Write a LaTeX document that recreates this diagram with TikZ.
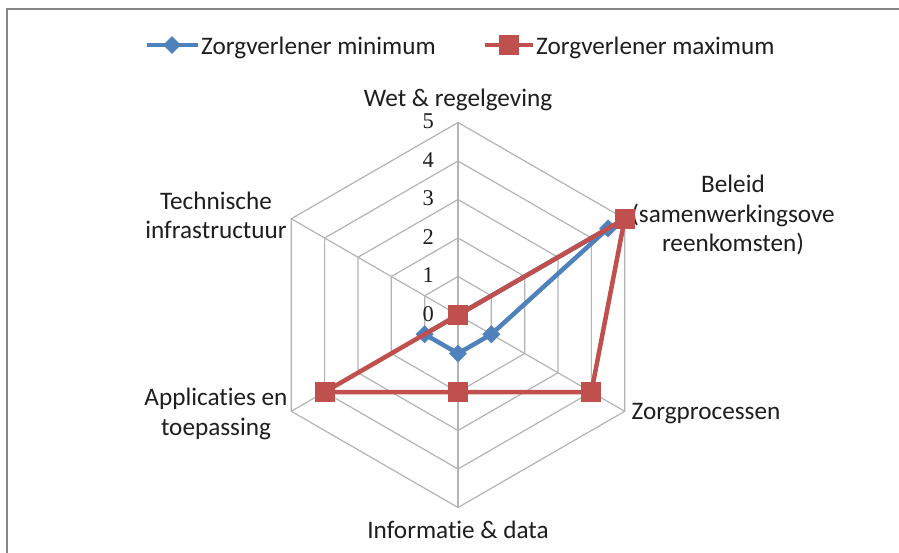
\documentclass[tikz,border=0pt]{standalone}
\usepackage{fontspec}
\setmainfont{Carlito}[Ligatures={NoCommon}]
\newfontfamily\tickfont{Liberation Serif}
\usetikzlibrary{shapes.geometric}
\definecolor{txt}{RGB}{30,30,30}
\definecolor{gridc}{RGB}{180,180,180}
\definecolor{framec}{RGB}{134,134,134}
\definecolor{serA}{RGB}{79,129,189}
\definecolor{serB}{RGB}{192,80,77}
\begin{document}
\begin{tikzpicture}[x=1pt,y=1pt,
  lbl/.style={inner sep=0pt, text=txt, font=\fontsize{25.2}{29.5}\selectfont, align=center},
  ticklbl/.style={inner sep=0pt, text=txt, font=\tickfont\fontsize{22.5}{24}\selectfont, anchor=east},
  gridline/.style={draw=gridc, line width=1.2pt},
  minline/.style={draw=serA, line width=4.5pt, line join=round},
  maxline/.style={draw=serB, line width=4.5pt, line join=miter},
  minmark/.style={diamond, aspect=1, fill=serA, minimum width=18pt, minimum height=18pt, inner sep=0pt},
  maxmark/.style={rectangle, fill=serB, minimum size=20pt, inner sep=0pt}]
\useasboundingbox (-458,-237) rectangle (441,315);
\clip (-458,-237) rectangle (441,315);
\fill[white] (-458,-237) rectangle (441,315);
% frame (cropped at right and bottom)
\coordinate (fr1) at (-451,-245);
\coordinate (fr2) at (-451,306);
\coordinate (fr3) at (450,306);
\draw[framec, line width=2pt] (fr1) -- (fr2) -- (fr3);
% grid
\coordinate (O) at (0,0);
\foreach \r in {1,...,5}{
  \draw[gridline] (90:{38.5*\r}) -- (30:{38.5*\r}) -- (-30:{38.5*\r}) -- (-90:{38.5*\r}) -- (-150:{38.5*\r}) -- (150:{38.5*\r}) -- cycle;
}
\foreach \a/\n in {90/W,30/B,-30/Z,-90/I,-150/A,150/T}{
  \coordinate (ax\n) at (\a:192.5);
  \draw[gridline] (O) -- (ax\n);
}
% tick labels
\foreach \r in {0,...,5}{
  \node[ticklbl] (tick\r) at (-24,{38.5*\r+1}) {\r};
}
% axis labels
\node[lbl] (labW) at (0,215) {Wet \& regelgeving};
\node[lbl] (labB) at (275,100) {Beleid\\(samenwerkingsove\\reenkomsten)};
\node[lbl] (labZ) at (248,-98.5) {Zorgprocessen};
\node[lbl] (labI) at (0,-214.5) {Informatie \& data};
\node[lbl] (labA) at (-242,-99) {Applicaties en\\toepassing};
\node[lbl] (labT) at (-242,99.5) {Technische\\infrastructuur};
% data: minimum
\coordinate (minW) at (90:0);
\coordinate (minB) at (30:173.25);
\coordinate (minZ) at (-30:38.5);
\coordinate (minI) at (-90:38.5);
\coordinate (minA) at (-150:38.5);
\coordinate (minT) at (150:0);
\draw[minline] (minW) -- (minB) -- (minZ) -- (minI) -- (minA) -- (minT) -- cycle;
\foreach \n in {W,B,Z,I,A,T}{\node[minmark] (mm\n) at (min\n) {};}
% data: maximum
\coordinate (maxW) at (90:0);
\coordinate (maxB) at (30:192.5);
\coordinate (maxZ) at (-30:154);
\coordinate (maxI) at (-90:77);
\coordinate (maxA) at (-150:154);
\coordinate (maxT) at (150:0);
\draw[maxline] (maxW) -- (maxB) -- (maxZ) -- (maxI) -- (maxA) -- (maxT) -- cycle;
\foreach \n in {W,B,Z,I,A,T}{\node[maxmark] (mx\n) at (max\n) {};}
% legend
\coordinate (lgA1) at (-311,270);
\coordinate (lgA2) at (-260,270);
\draw[minline] (lgA1) -- (lgA2);
\node[minmark] (lgAm) at (-286,270) {};
\node[lbl, anchor=west] (lgAt) at (-257,267) {Zorgverlener minimum};
\coordinate (lgB1) at (27,270);
\coordinate (lgB2) at (75,270);
\draw[maxline] (lgB1) -- (lgB2);
\node[maxmark] (lgBm) at (51,270) {};
\node[lbl, anchor=west] (lgBt) at (78,267) {Zorgverlener maximum};
\end{tikzpicture}
\end{document}
